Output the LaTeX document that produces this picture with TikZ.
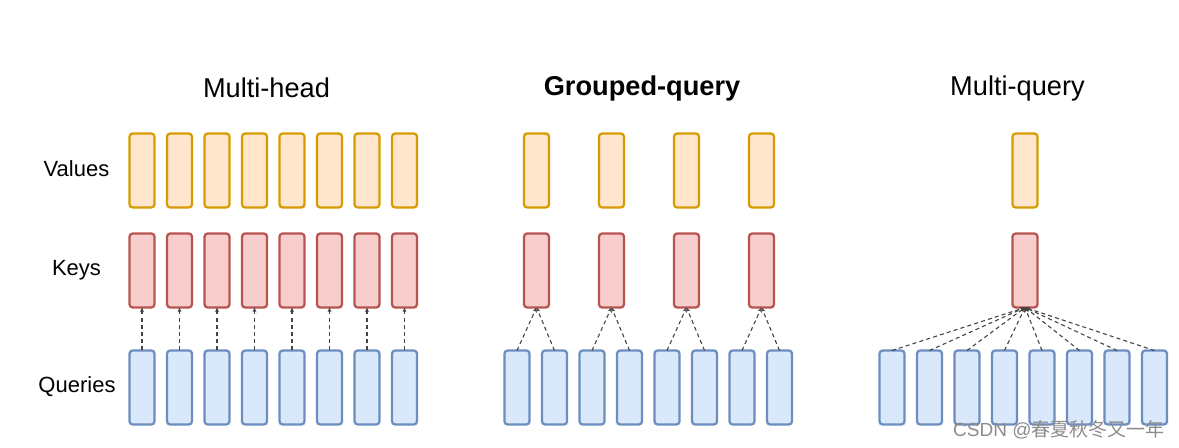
\documentclass[tikz,border=0pt]{standalone}
\usepackage{fontspec}
\setmainfont{Liberation Sans}
\newfontfamily\cjkfont{Noto Sans CJK SC}
\usetikzlibrary{arrows.meta}
\definecolor{valfill}{HTML}{FFE6CC}
\definecolor{valdraw}{HTML}{D79B00}
\definecolor{keyfill}{HTML}{F8CECC}
\definecolor{keydraw}{HTML}{B85450}
\definecolor{qryfill}{HTML}{DAE8FC}
\definecolor{qrydraw}{HTML}{6C8EBF}
\definecolor{linkgray}{HTML}{444444}

\begin{document}
\begin{tikzpicture}[x=0.5pt,y=-0.5pt,
    box/.style={draw, line width=1.15pt, rounded corners=1.6pt, inner sep=0pt, outer sep=0pt,
      minimum width=12.5pt, minimum height=37pt},
    valbox/.style={box, draw=valdraw, fill=valfill},
    keybox/.style={box, draw=keydraw, fill=keyfill},
    qrybox/.style={box, draw=qrydraw, fill=qryfill},
    title/.style={font=\fontsize{13.6}{16}\selectfont},
    rowlabel/.style={font=\fontsize{11}{13}\selectfont},
    link/.style={draw=linkgray, line width=0.55pt, dash pattern=on 2pt off 1.6pt,
      -{Stealth[length=2.4pt,width=2pt]}}]
    \useasboundingbox (0,0) rectangle (1179,448);
    % titles and row labels
    \node[title] (thead) at (266.5,88) {Multi-head};
    \node[title] (tgroup) at (642,88) {\bfseries Grouped-query};
    \node[title] (tmulti) at (1017.5,88) {Multi-query};
    \node[rowlabel] (lval) at (76.5,169) {Values};
    \node[rowlabel] (lkey) at (76.5,270) {Keys};
    \node[rowlabel] (lqry) at (77,387) {Queries};
    % multi-head
    \node[valbox] (mv1) at (142,170.5) {};
    \node[valbox] (mv2) at (179.5,170.5) {};
    \node[valbox] (mv3) at (217,170.5) {};
    \node[valbox] (mv4) at (254.5,170.5) {};
    \node[valbox] (mv5) at (292,170.5) {};
    \node[valbox] (mv6) at (329.5,170.5) {};
    \node[valbox] (mv7) at (367,170.5) {};
    \node[valbox] (mv8) at (404.5,170.5) {};
    \node[keybox] (mk1) at (142,270.5) {};
    \node[keybox] (mk2) at (179.5,270.5) {};
    \node[keybox] (mk3) at (217,270.5) {};
    \node[keybox] (mk4) at (254.5,270.5) {};
    \node[keybox] (mk5) at (292,270.5) {};
    \node[keybox] (mk6) at (329.5,270.5) {};
    \node[keybox] (mk7) at (367,270.5) {};
    \node[keybox] (mk8) at (404.5,270.5) {};
    \node[qrybox] (mq1) at (142,387.5) {};
    \node[qrybox] (mq2) at (179.5,387.5) {};
    \node[qrybox] (mq3) at (217,387.5) {};
    \node[qrybox] (mq4) at (254.5,387.5) {};
    \node[qrybox] (mq5) at (292,387.5) {};
    \node[qrybox] (mq6) at (329.5,387.5) {};
    \node[qrybox] (mq7) at (367,387.5) {};
    \node[qrybox] (mq8) at (404.5,387.5) {};
    \draw[link] (mq1.north)--(mk1.south);
    \draw[link] (mq2.north)--(mk2.south);
    \draw[link] (mq3.north)--(mk3.south);
    \draw[link] (mq4.north)--(mk4.south);
    \draw[link] (mq5.north)--(mk5.south);
    \draw[link] (mq6.north)--(mk6.south);
    \draw[link] (mq7.north)--(mk7.south);
    \draw[link] (mq8.north)--(mk8.south);
    % grouped-query
    \node[valbox] (gv1) at (536.5,170.5) {};
    \node[valbox] (gv2) at (611.5,170.5) {};
    \node[valbox] (gv3) at (686.5,170.5) {};
    \node[valbox] (gv4) at (761.5,170.5) {};
    \node[keybox] (gk1) at (536.5,270.5) {};
    \node[keybox] (gk2) at (611.5,270.5) {};
    \node[keybox] (gk3) at (686.5,270.5) {};
    \node[keybox] (gk4) at (761.5,270.5) {};
    \node[qrybox] (gq1) at (517,387.5) {};
    \node[qrybox] (gq2) at (554.5,387.5) {};
    \node[qrybox] (gq3) at (592,387.5) {};
    \node[qrybox] (gq4) at (629.5,387.5) {};
    \node[qrybox] (gq5) at (667,387.5) {};
    \node[qrybox] (gq6) at (704.5,387.5) {};
    \node[qrybox] (gq7) at (742,387.5) {};
    \node[qrybox] (gq8) at (779.5,387.5) {};
    \draw[link] (gq1.north)--(gk1.south);
    \draw[link] (gq2.north)--(gk1.south);
    \draw[link] (gq3.north)--(gk2.south);
    \draw[link] (gq4.north)--(gk2.south);
    \draw[link] (gq5.north)--(gk3.south);
    \draw[link] (gq6.north)--(gk3.south);
    \draw[link] (gq7.north)--(gk4.south);
    \draw[link] (gq8.north)--(gk4.south);
    % multi-query
    \node[valbox] (qv) at (1025,170.5) {};
    \node[keybox] (qk) at (1025,270.5) {};
    \node[qrybox] (qq1) at (892,387.5) {};
    \node[qrybox] (qq2) at (929.5,387.5) {};
    \node[qrybox] (qq3) at (967,387.5) {};
    \node[qrybox] (qq4) at (1004.5,387.5) {};
    \node[qrybox] (qq5) at (1042,387.5) {};
    \node[qrybox] (qq6) at (1079.5,387.5) {};
    \node[qrybox] (qq7) at (1117,387.5) {};
    \node[qrybox] (qq8) at (1154.5,387.5) {};
    \draw[link] (qq1.north)--(qk.south);
    \draw[link] (qq2.north)--(qk.south);
    \draw[link] (qq3.north)--(qk.south);
    \draw[link] (qq4.north)--(qk.south);
    \draw[link] (qq5.north)--(qk.south);
    \draw[link] (qq6.north)--(qk.south);
    \draw[link] (qq7.north)--(qk.south);
    \draw[link] (qq8.north)--(qk.south);
    % watermark
    \node[anchor=east, text=black!45, font=\fontsize{9.5}{11}\selectfont, inner sep=0pt]
      (mark) at (1165,430) {CSDN @{\cjkfont 春夏秋冬又一年}};
\end{tikzpicture}
\end{document}
